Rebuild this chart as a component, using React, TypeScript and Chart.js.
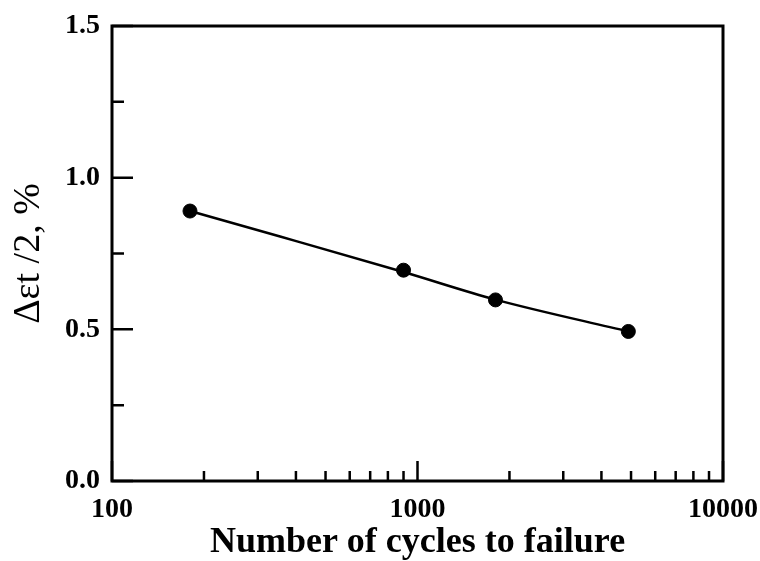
import React, { useEffect, useRef } from "react";
import { Chart, registerables } from "chart.js";

Chart.register(...registerables);

// measured data points
const cycles = [180, 900, 1800, 4900];
const strainAmp = [0.89, 0.695, 0.597, 0.493];

// fitted curve
const fitCycles = [180, 355, 900, 1800, 4900];
const fitStrain = [0.89, 0.806, 0.689, 0.598, 0.493];

const yMajorTicks = [0, 0.5, 1.0, 1.5];
const yMinorTicks = [0.25, 0.75, 1.25];
const xMajorTicks = [100, 1000, 10000];
const xMinorTicks = [200, 300, 400, 500, 600, 700, 800, 900, 2000, 3000, 4000, 5000, 6000, 7000, 8000, 9000];

const xTitle = "Number of cycles to failure";
const yTitle = "Δεt /2, %";

const SERIF = "'Liberation Serif', 'Times New Roman', serif";

const framePlugin = {
  id: "framePlugin",
  afterDatasetsDraw(chart: any) {
    const { ctx, chartArea, scales } = chart;
    const { left, right, top, bottom } = chartArea;
    ctx.save();
    ctx.strokeStyle = "#000";
    ctx.lineCap = "butt";
    ctx.lineWidth = 2.5;
    const y = scales.y;
    const x = scales.x;
    ctx.beginPath();
    yMajorTicks.forEach((v) => {
      const p = y.getPixelForValue(v);
      ctx.moveTo(left, p);
      ctx.lineTo(left + 21, p);
    });
    yMinorTicks.forEach((v) => {
      const p = y.getPixelForValue(v);
      ctx.moveTo(left, p);
      ctx.lineTo(left + 12, p);
    });
    xMajorTicks.forEach((v) => {
      const p = x.getPixelForValue(v);
      ctx.moveTo(p, bottom);
      ctx.lineTo(p, bottom - 20);
    });
    xMinorTicks.forEach((v) => {
      const p = x.getPixelForValue(v);
      ctx.moveTo(p, bottom);
      ctx.lineTo(p, bottom - 10);
    });
    ctx.stroke();
    ctx.lineWidth = 3;
    ctx.strokeRect(left, top, right - left, bottom - top);
    ctx.restore();
  },
};

export default function App() {
  const canvasRef = useRef<HTMLCanvasElement | null>(null);

  useEffect(() => {
    if (!canvasRef.current) return;
    const chart = new Chart(canvasRef.current, {
      type: "line",
      data: {
        datasets: [
          {
            data: fitCycles.map((c, i) => ({ x: c, y: fitStrain[i] })),
            borderColor: "#000",
            borderWidth: 2.5,
            pointRadius: 0,
            cubicInterpolationMode: "monotone",
            fill: false,
          },
          {
            data: cycles.map((c, i) => ({ x: c, y: strainAmp[i] })),
            showLine: false,
            borderColor: "#000",
            backgroundColor: "#000",
            pointRadius: 7,
            pointHoverRadius: 7,
            pointBackgroundColor: "#000",
            pointBorderColor: "#000",
            fill: false,
          },
        ],
      },
      options: {
        responsive: false,
        animation: false,
        events: [],
        layout: { padding: { left: 0, top: 26, right: 37, bottom: 0 } },
        plugins: {
          legend: { display: false },
          tooltip: { enabled: false },
        },
        scales: {
          x: {
            type: "logarithmic",
            min: 100,
            max: 10000,
            grid: { display: false, drawTicks: false },
            border: { display: false },
            afterBuildTicks: (scale: any) => {
              scale.ticks = xMajorTicks.map((v) => ({ value: v }));
            },
            afterFit: (scale: any) => {
              scale.height = 80;
              scale.paddingLeft = 0;
              scale.paddingRight = 0;
            },
            ticks: {
              color: "#000",
              autoSkip: false,
              maxRotation: 0,
              padding: 12,
              font: { family: SERIF, size: 28, weight: "bold", lineHeight: 1.2 },
              callback: (v: any) => String(v),
            },
            title: {
              display: true,
              text: xTitle,
              color: "#000",
              padding: { top: 0, bottom: 0 },
              font: { family: SERIF, size: 36, weight: "bold", lineHeight: 1 },
            },
          },
          y: {
            type: "linear",
            min: 0,
            max: 1.5,
            grid: { display: false, drawTicks: false },
            border: { display: false },
            afterBuildTicks: (scale: any) => {
              scale.ticks = yMajorTicks.map((v) => ({ value: v }));
            },
            afterFit: (scale: any) => {
              scale.width = 112;
              scale.paddingTop = 0;
              scale.paddingBottom = 0;
            },
            ticks: {
              color: "#000",
              padding: 12,
              font: { family: SERIF, size: 28, weight: "bold", lineHeight: 1.2 },
              callback: (v: any) => Number(v).toFixed(1),
            },
            title: {
              display: true,
              text: yTitle,
              color: "#000",
              padding: { top: 10, bottom: 0 },
              font: { family: SERIF, size: 38, weight: "normal", lineHeight: 1 },
            },
          },
        },
      },
      plugins: [framePlugin],
    } as any);
    return () => chart.destroy();
  }, []);

  return (
    <div style={{ position: "absolute", left: 0, top: 0, width: 760, height: 561, background: "#fff" }}>
      <canvas ref={canvasRef} width={760} height={561} />
    </div>
  );
}
